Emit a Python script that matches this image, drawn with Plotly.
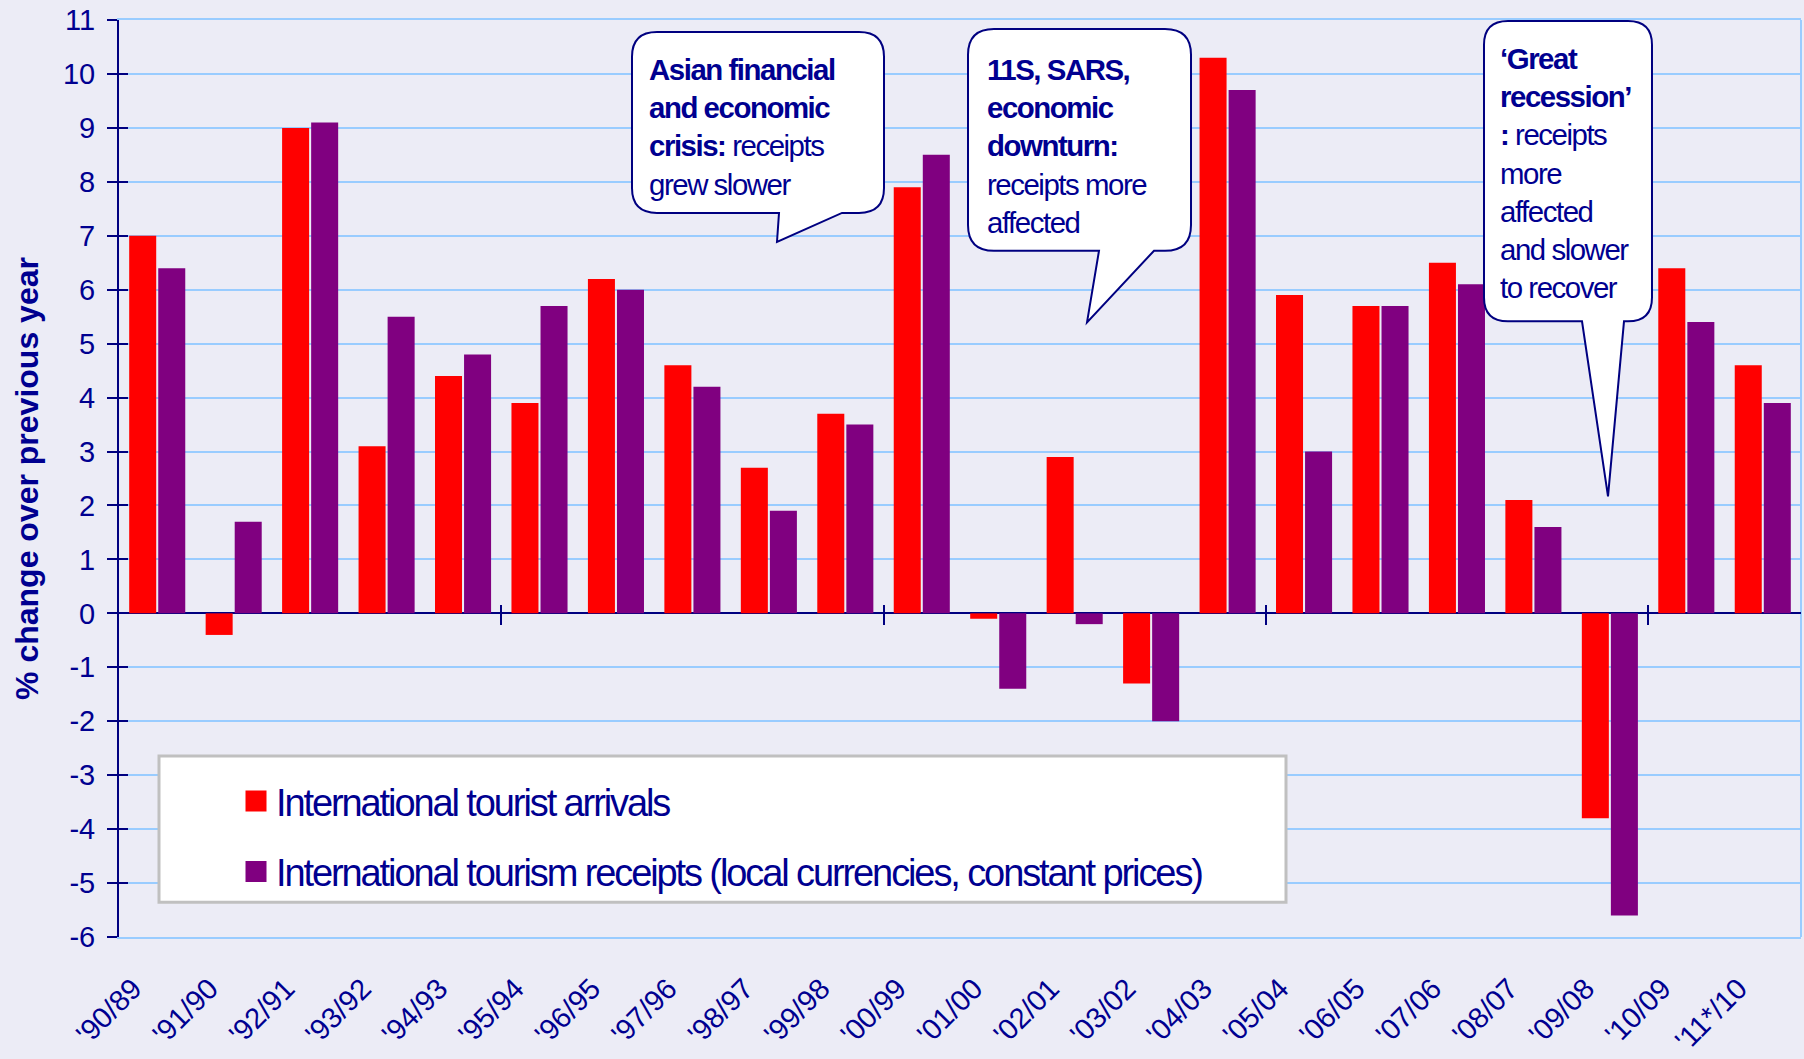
import plotly.graph_objects as go

# ---------------- data ----------------
categories = ["'90/89", "'91/90", "'92/91", "'93/92", "'94/93", "'95/94", "'96/95",
              "'97/96", "'98/97", "'99/98", "'00/99", "'01/00", "'02/01", "'03/02",
              "'04/03", "'05/04", "'06/05", "'07/06", "'08/07", "'09/08", "'10/09",
              "'11*/10"]
arrivals = [7.0, -0.4, 9.0, 3.1, 4.4, 3.9, 6.2, 4.6, 2.7, 3.7, 7.9, -0.1, 2.9, -1.3,
            10.3, 5.9, 5.7, 6.5, 2.1, -3.8, 6.4, 4.6]
receipts = [6.4, 1.7, 9.1, 5.5, 4.8, 5.7, 6.0, 4.2, 1.9, 3.5, 8.5, -1.4, -0.2, -2.0,
            9.7, 3.0, 5.7, 6.1, 1.6, -5.6, 5.4, 3.9]
series_names = ["International tourist arrivals",
                "International tourism receipts (local currencies, constant prices)"]
y_tickvals = list(range(-6, 12))
y_ticktext = [str(v) for v in y_tickvals]
group_tickvals = [4.5, 9.5, 14.5, 19.5]

callout_lines = [
    ["<b>Asian financial</b>", "<b>and economic</b>", "<b>crisis:</b> receipts", "grew slower"],
    ["<b>11S, SARS,</b>", "<b>economic</b>", "<b>downturn:</b>", "receipts more", "affected"],
    ["<b>\u2018Great</b>", "<b>recession\u2019</b>", "<b>:</b> receipts", "more", "affected",
     "and slower", "to recover"],
]

# ---------------- style ----------------
NAVY = "#000080"
TEXTNAVY = "#000090"
RED = "#FF0000"
PURPLE = "#800080"
GRID = "#99CCFF"
BG = "#ECECF6"
REG = "Liberation Sans, Arial, sans-serif"


def condensed(s, ls):
    return f"<span style='letter-spacing:{ls}px'>{s}</span>"


W, H = 1804, 1059
ML, MR, MT, MB = 119, 3, 20, 117
PW = W - ML - MR
PH = H - MT - MB


def px(x):
    return (x - ML) / PW


def py(y):
    return (H - MB - y) / PH


def bubble_path(L, T, R, B, r, t1, t2, tip):
    tx, ty = tip
    seq = [
        ("M", [(L + r, T)]), ("L", [(R - r, T)]), ("Q", [(R, T), (R, T + r)]),
        ("L", [(R, B - r)]), ("Q", [(R, B), (R - r, B)]), ("L", [(t2, B)]),
        ("L", [(tx, ty)]), ("L", [(t1, B)]), ("L", [(L + r, B)]),
        ("Q", [(L, B), (L, B - r)]), ("L", [(L, T + r)]), ("Q", [(L, T), (L + r, T)]),
    ]
    out = []
    for cmd, pts in seq:
        out.append(cmd + " " + " ".join(f"{px(a):.5f},{py(b):.5f}" for a, b in pts))
    return " ".join(out) + " Z"


fig = go.Figure()
fig.add_trace(go.Bar(x=categories, y=arrivals, name=series_names[0],
                     marker=dict(color=RED, line=dict(width=0)), showlegend=False))
fig.add_trace(go.Bar(x=categories, y=receipts, name=series_names[1],
                     marker=dict(color=PURPLE, line=dict(width=0)), showlegend=False))
# legend entries (larger square swatches)
for name, col, grp in [(series_names[0], RED, "a"), (series_names[1], PURPLE, "b")]:
    fig.add_trace(go.Scatter(x=[None], y=[None], mode="markers", name=condensed(name, -2.1),
                             legendgroup=grp, xaxis="x2", yaxis="y2",
                             marker=dict(symbol="square", size=16, color=col,
                                         line=dict(color=col, width=5))))

bubbles = [
    dict(box=(632, 32, 884, 214, 25, 779, 842, (777, 243)), text=(647, 51)),
    dict(box=(968, 29, 1191, 252, 26, 1099, 1154, (1087, 324)), text=(985, 51)),
    dict(box=(1484, 21, 1652, 323, 24, 1582, 1624, (1608, 499)), text=(1498, 40)),
]
shapes = [
    dict(type="rect", xref="paper", yref="paper", x0=px(159), x1=px(1286),
         y0=py(907), y1=py(760), fillcolor="white", line=dict(color="#C0C0C0", width=3),
         layer="above"),
    dict(type="line", xref="paper", yref="paper", x0=1, x1=1, y0=0, y1=1,
         line=dict(color=GRID, width=2), layer="below"),
]
annotations = []
for b, lines in zip(bubbles, callout_lines):
    shapes.append(dict(type="path", xref="paper", yref="paper", path=bubble_path(*b["box"]),
                       fillcolor="white", line=dict(color=NAVY, width=2), layer="above"))
    text = "<br>".join(condensed(l, -1.45) for l in lines)
    annotations.append(dict(xref="paper", yref="paper", x=px(b["text"][0]), y=py(b["text"][1]),
                            xanchor="left", yanchor="top", align="left", showarrow=False,
                            text=text, font=dict(family=REG, size=29.4, color=TEXTNAVY)))

fig.update_layout(
    width=W, height=H,
    margin=dict(l=ML, r=MR, t=MT, b=MB, pad=0),
    paper_bgcolor=BG, plot_bgcolor=BG,
    barmode="group", bargap=0.24, bargroupgap=0.07,
    showlegend=True,
    legend=dict(x=px(236), y=py(774), xanchor="left", yanchor="top",
                bgcolor="rgba(0,0,0,0)", borderwidth=0,
                font=dict(family=REG, size=38, color=TEXTNAVY),
                traceorder="grouped", tracegroupgap=18, itemsizing="trace"),
    xaxis=dict(type="category", showgrid=False, zeroline=False, ticks="",
               showline=True, linecolor=GRID, linewidth=2, mirror=True,
               tickangle=-45, tickfont=dict(family=REG, size=29, color=TEXTNAVY),
               ticklabelstandoff=21, ticklabelshift=-24),
    yaxis=dict(range=[-6, 11], tickvals=y_tickvals, ticktext=y_ticktext,
               ticks="outside", ticklen=10,
               tickwidth=2, tickcolor=NAVY, showline=True, linecolor=NAVY, linewidth=2,
               showgrid=True, gridcolor=GRID, gridwidth=2,
               zeroline=True, zerolinecolor=NAVY, zerolinewidth=2,
               tickfont=dict(family=REG, size=29, color=TEXTNAVY), ticklabelstandoff=6,
               title=dict(text="% change over previous year", standoff=15,
                          font=dict(family=REG, size=32, color=TEXTNAVY, weight="bold"))),
    xaxis2=dict(overlaying="x", type="linear", range=[-0.5, len(categories) - 0.5],
                anchor="free", position=(H - MB - 607) / PH, side="bottom",
                tickvals=group_tickvals, ticks="outside", ticklen=20, tickwidth=2,
                tickcolor=NAVY, showticklabels=False, showgrid=False, zeroline=False,
                showline=False),
    yaxis2=dict(overlaying="y", anchor="x", range=[-6, 11], tickvals=y_tickvals,
                ticks="inside", ticklen=9, tickwidth=2, tickcolor=NAVY,
                showticklabels=False, showgrid=False, zeroline=False, showline=False),
    shapes=shapes, annotations=annotations,
)

fig.write_html("out.html", config={"displayModeBar": False},
               post_script="document.body.style.margin='0';document.body.style.background='" + BG + "';")
